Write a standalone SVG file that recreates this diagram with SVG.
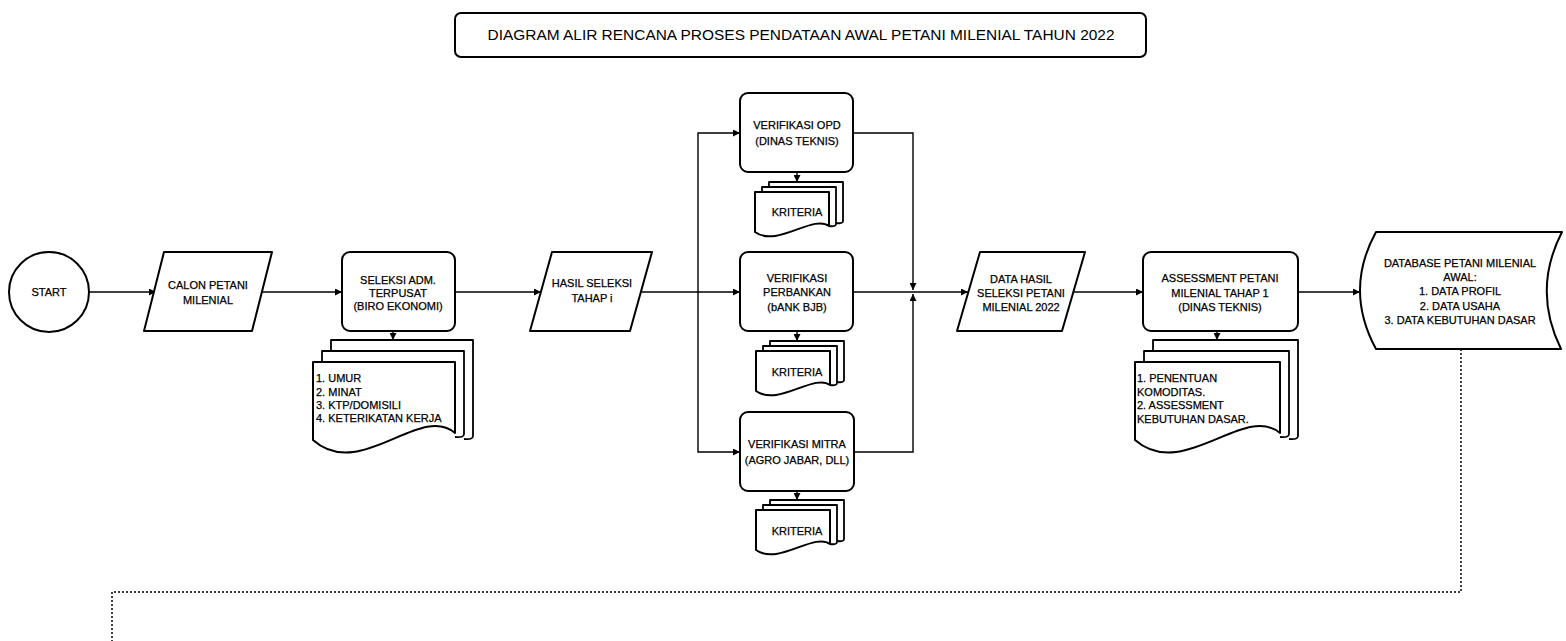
<svg xmlns="http://www.w3.org/2000/svg" width="1566" height="641" viewBox="0 0 1566 641">
<style>
.n{fill:#fff;stroke:#000;stroke-width:2;stroke-linejoin:round}
.p{fill:none;stroke:#000;stroke-width:1.8;stroke-linejoin:round}
.t{font-family:"Liberation Sans",Arial,sans-serif;font-size:11px;fill:#000;stroke:#000;stroke-width:0.25;text-anchor:middle}
.h{font-family:"Liberation Sans",Arial,sans-serif;font-size:15px;fill:#000;text-anchor:middle}
.l{text-anchor:start}
.c{fill:none;stroke:#000;stroke-width:1.4}
.d{fill:none;stroke:#000;stroke-width:1.5;stroke-dasharray:2 2}
</style>
<defs>
<marker id="a" markerUnits="userSpaceOnUse" markerWidth="8" markerHeight="7" refX="7" refY="3.5" orient="auto">
<path d="M0,0 L7,3.5 L0,7 z" fill="#000"/>
</marker>
</defs>
<rect width="1566" height="641" fill="#fff"/>

<g id="title">
<rect class="n" x="455" y="13" width="691" height="44" rx="6"/>
<text class="h" x="801" y="40" textLength="627" lengthAdjust="spacingAndGlyphs">DIAGRAM ALIR RENCANA PROSES PENDATAAN AWAL PETANI MILENIAL TAHUN 2022</text>
</g>

<g id="connectors">
<path class="c" d="M89,292 H156" marker-end="url(#a)"/>
<path class="c" d="M262,292 H342" marker-end="url(#a)"/>
<path class="c" d="M455,292 H541" marker-end="url(#a)"/>
<path class="c" d="M641,292 H740" marker-end="url(#a)"/>
<path class="c" d="M698,292 V133 H740" marker-end="url(#a)"/>
<path class="c" d="M698,292 V452 H740" marker-end="url(#a)"/>
<path class="c" d="M853,133 H913 V290" marker-end="url(#a)"/>
<path class="c" d="M854,452 H913 V294" marker-end="url(#a)"/>
<path class="c" d="M853,292 H968" marker-end="url(#a)"/>
<path class="c" d="M1073,292 H1143" marker-end="url(#a)"/>
<path class="c" d="M1298,292 H1360" marker-end="url(#a)"/>
<path class="c" d="M393,331 V340" marker-end="url(#a)"/>
<path class="c" d="M797,172 V182" marker-end="url(#a)"/>
<path class="c" d="M797,331 V341" marker-end="url(#a)"/>
<path class="c" d="M797,491 V500" marker-end="url(#a)"/>
<path class="c" d="M1217,331 V340" marker-end="url(#a)"/>
<path class="d" d="M1461,349 V592 H112 V641"/>
</g>

<g id="start">
<circle class="n" cx="49" cy="292" r="40"/>
<text class="t" x="49" y="296">START</text>
</g>

<g id="calon">
<polygon class="n" points="164,252 272,252 252,331 144,331"/>
<text class="t" x="208" y="289">CALON PETANI</text>
<text class="t" x="208" y="304">MILENIAL</text>
</g>

<g id="seleksi">
<rect class="n" x="342" y="252" width="113" height="79" rx="8"/>
<text class="t" x="398" y="284">SELEKSI ADM.</text>
<text class="t" x="398" y="297">TERPUSAT</text>
<text class="t" x="398" y="310">(BIRO EKONOMI)</text>
</g>

<g id="seleksi-doc">
<path class="p" d="M331,351 V340 H473 V436 Q473,440 464,439"/>
<path class="p" fill="#fff" d="M322,362 V351 H464 V434 Q464,438 455,437"/>
<path class="n" d="M313,362 H455 V433 C420,403 360,482 313,440 Z"/>
<text class="t l" x="316" y="382">1. UMUR</text>
<text class="t l" x="316" y="396">2. MINAT</text>
<text class="t l" x="316" y="409">3. KTP/DOMISILI</text>
<text class="t l" x="316" y="422">4. KETERIKATAN KERJA</text>
</g>

<g id="hasil">
<polygon class="n" points="552,252 652,252 630,331 530,331"/>
<text class="t" x="592" y="287">HASIL SELEKSI</text>
<text class="t" x="592" y="302">TAHAP i</text>
</g>

<g id="opd">
<rect class="n" x="740" y="93" width="113" height="79" rx="8"/>
<text class="t" x="797" y="129">VERIFIKASI OPD</text>
<text class="t" x="797" y="145">(DINAS TEKNIS)</text>
</g>
<g id="opd-doc">
<path class="p" d="M769,187 V182 H843 V221 Q843,224 836,223"/>
<path class="p" d="M762,192 V187 H836 V224 Q836,227 829,226"/>
<path class="n" d="M755,192 H829 V226 C813,214 777,248 755,232 Z"/>
<text class="t" x="797" y="216">KRITERIA</text>
</g>

<g id="perbankan">
<rect class="n" x="740" y="252" width="113" height="79" rx="8"/>
<text class="t" x="797" y="282">VERIFIKASI</text>
<text class="t" x="797" y="296">PERBANKAN</text>
<text class="t" x="797" y="311">(bANK BJB)</text>
</g>
<g id="perbankan-doc">
<path class="p" d="M770,346 V341 H844 V380 Q844,383 837,382"/>
<path class="p" d="M763,351 V346 H837 V383 Q837,386 830,385"/>
<path class="n" d="M756,351 H830 V385 C814,373 778,407 756,391 Z"/>
<text class="t" x="797" y="376">KRITERIA</text>
</g>

<g id="mitra">
<rect class="n" x="740" y="412" width="114" height="79" rx="8"/>
<text class="t" x="797" y="448">VERIFIKASI MITRA</text>
<text class="t" x="797" y="464">(AGRO JABAR, DLL)</text>
</g>
<g id="mitra-doc">
<path class="p" d="M770,505 V500 H844 V539 Q844,542 837,541"/>
<path class="p" d="M763,510 V505 H837 V542 Q837,545 830,544"/>
<path class="n" d="M756,510 H830 V544 C814,532 778,566 756,550 Z"/>
<text class="t" x="797" y="535">KRITERIA</text>
</g>

<g id="datahasil">
<polygon class="n" points="980,252 1085,252 1062,331 957,331"/>
<text class="t" x="1021" y="283">DATA HASIL</text>
<text class="t" x="1021" y="297">SELEKSI PETANI</text>
<text class="t" x="1021" y="311">MILENIAL 2022</text>
</g>

<g id="assessment">
<rect class="n" x="1143" y="252" width="155" height="79" rx="8"/>
<text class="t" x="1220" y="282">ASSESSMENT PETANI</text>
<text class="t" x="1220" y="297">MILENIAL TAHAP 1</text>
<text class="t" x="1220" y="311">(DINAS TEKNIS)</text>
</g>
<g id="assessment-doc">
<path class="p" d="M1153,351 V340 H1298 V436 Q1298,440 1289,439"/>
<path class="p" fill="#fff" d="M1144,362 V351 H1289 V434 Q1289,438 1280,437"/>
<path class="n" d="M1135,362 H1280 V433 C1244,403 1183,482 1135,440 Z"/>
<text class="t l" x="1137" y="382">1. PENENTUAN</text>
<text class="t l" x="1137" y="396">KOMODITAS.</text>
<text class="t l" x="1137" y="409">2. ASSESSMENT</text>
<text class="t l" x="1137" y="423">KEBUTUHAN DASAR.</text>
</g>

<g id="database">
<path class="n" d="M1376,232 H1562 Q1532,290 1561,349 H1376 Q1344,290 1376,232 Z"/>
<text class="t" x="1460" y="267">DATABASE PETANI MILENIAL</text>
<text class="t" x="1460" y="281">AWAL:</text>
<text class="t" x="1460" y="295">1. DATA PROFIL</text>
<text class="t" x="1460" y="310">2. DATA USAHA</text>
<text class="t" x="1460" y="324">3. DATA KEBUTUHAN DASAR</text>
</g>
</svg>
